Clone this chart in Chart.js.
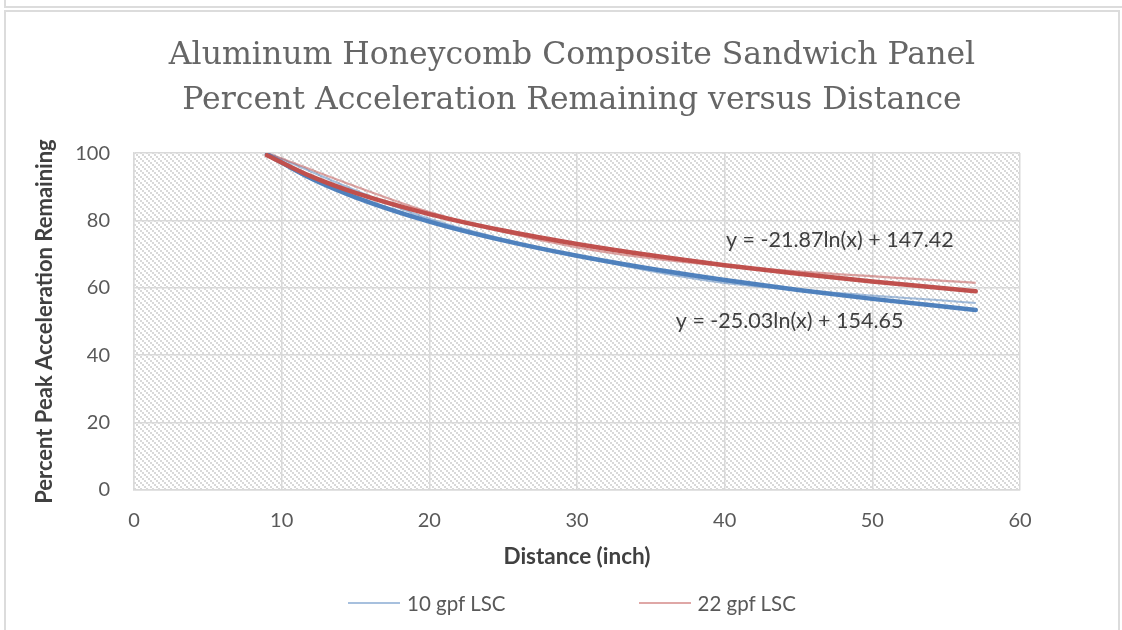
<!DOCTYPE html>
<html><head><meta charset="utf-8">
<script src="https://cdn.jsdelivr.net/npm/chart.js@4"></script>
<style>
html,body{margin:0;padding:0;background:#fff;}
#wrap{position:relative;width:1122px;height:630px;overflow:hidden;background:#fff;}
#topbox{position:absolute;left:4px;top:-20px;width:1200px;height:24px;border:2px solid #dcdcdc;}
#box{position:absolute;left:4px;top:10px;width:1112px;height:660px;border:2px solid #dcdcdc;}
#c{position:absolute;left:0;top:0;}
#legend{position:absolute;left:22px;top:590px;width:1100px;height:26px;display:flex;justify-content:center;align-items:center;gap:133px;font-family:Lato,"Liberation Sans",sans-serif;font-size:20.5px;color:#595959;}
.item{display:flex;align-items:center;}
.sw{display:inline-block;width:52px;height:2px;margin-right:7px;}
</style>
</head><body>
<div id="wrap">
<div id="topbox"></div>
<div id="box"></div>
<canvas id="c" width="1122" height="630"></canvas>
<div id="legend"></div>
</div>
<script>
// ---- data ----
const xDist   = [9, 20, 30, 40, 57];
const gpf10   = [100, 80.5, 69.5, 61.5, 55.5];
const gpf22   = [100, 82.5, 72.0, 66.5, 61.5];
// logarithmic trendlines as drawn
const trendX  = [9, 12, 15, 20, 25, 30, 35, 40, 45, 50, 57];
const trend10 = [99.65, 92.45, 86.87, 79.67, 74.08, 69.52, 65.66, 62.32, 59.37, 56.73, 53.45];
const trend22 = [99.37, 93.07, 88.19, 81.90, 77.02, 73.04, 69.67, 66.74, 64.17, 61.86, 59.00];
const xTicks  = [0, 10, 20, 30, 40, 50, 60];
const yTicks  = [0, 20, 40, 60, 80, 100];
const seriesNames = ['10 gpf LSC', '22 gpf LSC'];
const titleLines = ['Aluminum Honeycomb Composite Sandwich Panel', 'Percent Acceleration Remaining versus Distance'];
const eq10 = 'y = -25.03ln(x) + 154.65';
const eq22 = 'y = -21.87ln(x) + 147.42';

const pts = (xs, ys) => xs.map((x, i) => ({x: x, y: ys[i]}));

const FONT = 'Lato, "Liberation Sans", sans-serif';
const GRAY = '#595959';

// hatch pattern for plot background
function makePattern(ctx) {
  const t = document.createElement('canvas');
  t.width = 6; t.height = 6;
  const g = t.getContext('2d');
  g.fillStyle = '#ffffff'; g.fillRect(0, 0, 6, 6);
  g.fillStyle = '#d9d9d9';
  for (let y = 0; y < 6; y++) for (let x = 0; x < 6; x++) {
    const d = ((Math.floor(x / 2) - Math.floor(y / 2)) % 3 + 3) % 3;
    if (d === 0) g.fillRect(x, y, 1, 1);
  }
  return ctx.createPattern(t, 'repeat');
}

const bgPlugin = {
  id: 'bg',
  beforeDraw(chart) {
    const {ctx, chartArea: a} = chart;
    ctx.save();
    ctx.fillStyle = makePattern(ctx);
    ctx.fillRect(a.left, a.top, a.right - a.left, a.bottom - a.top);
    ctx.restore();
  }
};

const eqPlugin = {
  id: 'eq',
  afterDatasetsDraw(chart) {
    const {ctx, scales: {x, y}} = chart;
    ctx.save();
    ctx.font = '21.5px ' + FONT;
    ctx.fillStyle = '#404040';
    ctx.textAlign = 'center';
    ctx.textBaseline = 'middle';
    ctx.fillText(eq22, x.getPixelForValue(47.8), y.getPixelForValue(74.2));
    ctx.fillText(eq10, x.getPixelForValue(44.4), y.getPixelForValue(50.2));
    ctx.restore();
  }
};

const chart = new Chart(document.getElementById('c'), {
  type: 'scatter',
  data: {
    datasets: [
      {label: 'trend22', data: pts(trendX, trend22), showLine: true, borderColor: '#c0504d', borderWidth: 4.5, pointRadius: 0, cubicInterpolationMode: 'monotone', borderCapStyle: 'round'},
      {label: 'trend10', data: pts(trendX, trend10), showLine: true, borderColor: '#4f81bd', borderWidth: 4.5, pointRadius: 0, cubicInterpolationMode: 'monotone', borderCapStyle: 'round'},
      {label: seriesNames[1], data: pts(xDist, gpf22), showLine: true, borderColor: 'rgba(192,80,77,0.5)', borderWidth: 2.2, pointRadius: 0, tension: 0.3},
      {label: seriesNames[0], data: pts(xDist, gpf10), showLine: true, borderColor: 'rgba(79,129,189,0.5)', borderWidth: 2.2, pointRadius: 0, tension: 0.3}
    ]
  },
  options: {
    responsive: false,
    animation: false,
    devicePixelRatio: 1,
    layout: {padding: {left: 28, right: 6, top: 20, bottom: 60}},
    plugins: {
      legend: {display: false},
      tooltip: {enabled: false},
      title: {
        display: true,
        text: titleLines,
        color: '#666666',
        font: {family: '"DejaVu Serif", serif', size: 31.5, weight: 'normal', lineHeight: 1.43},
        padding: {top: 13, bottom: 30}
      }
    },
    scales: {
      x: {
        type: 'linear', min: 0, max: 60,
        afterBuildTicks: s => { s.ticks = xTicks.map(v => ({value: v})); },
        afterFit: s => { s.height = 80; },
        grid: {color: '#d9d9d9', lineWidth: 1.5, drawTicks: false},
        border: {color: '#d9d9d9', width: 1.5},
        ticks: {color: GRAY, font: {family: FONT, size: 20}, padding: 19, maxRotation: 0},
        title: {display: true, text: 'Distance (inch)', color: '#404040', font: {family: FONT, size: 22.5, weight: 'bold'}, padding: {top: 0, bottom: 0}}
      },
      y: {
        type: 'linear', min: 0, max: 100,
        afterBuildTicks: s => { s.ticks = yTicks.map(v => ({value: v})); },
        afterFit: s => { s.width = 106; },
        grid: {color: '#d9d9d9', lineWidth: 1.5, drawTicks: false},
        border: {color: '#d9d9d9', width: 1.5},
        ticks: {color: GRAY, font: {family: FONT, size: 20}, padding: 24},
        title: {display: true, text: 'Percent Peak Acceleration Remaining', color: '#404040', font: {family: FONT, size: 22, weight: 'bold'}, padding: {top: 4, bottom: 0}}
      },
      ySpace: {
        type: 'linear', position: 'right', min: 0, max: 100,
        afterFit: s => { s.width = 96; },
        grid: {display: false, drawOnChartArea: false},
        border: {display: false},
        ticks: {display: false}
      }
    }
  },
  plugins: [bgPlugin, eqPlugin]
});

// legend built from the data series
const leg = document.getElementById('legend');
[3, 2].forEach(i => {
  const ds = chart.data.datasets[i];
  const it = document.createElement('div');
  it.className = 'item';
  const sw = document.createElement('span');
  sw.className = 'sw';
  sw.style.background = ds.borderColor;
  const tx = document.createElement('span');
  tx.textContent = ds.label;
  it.appendChild(sw); it.appendChild(tx);
  leg.appendChild(it);
});
</script>
</body></html>
